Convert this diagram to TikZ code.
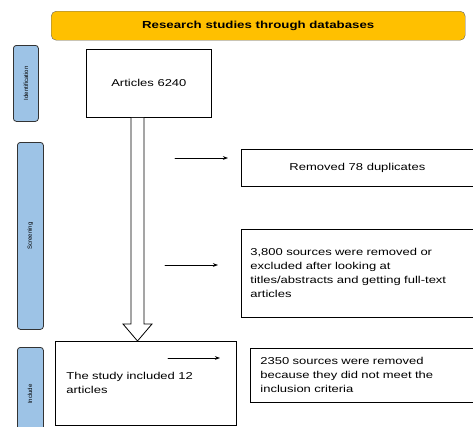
\documentclass[tikz,border=0pt]{standalone}
\usepackage{fontspec}
\setmainfont{Liberation Sans}
\newfontfamily\widefont[FakeStretch=1.3]{Liberation Sans}
\usetikzlibrary{arrows.meta}
\definecolor{bannerorange}{HTML}{FFC000}
\definecolor{stageblue}{HTML}{9DC3E6}

\begin{document}
\begin{tikzpicture}[x=1pt,y=-1pt,>={Stealth[length=1.8mm,width=1.3mm]},line cap=round,
  box/.style={draw,line width=0.8pt,anchor=north west,inner sep=0pt,
    font=\widefont\fontsize{10}{14}\selectfont},
  sidebar/.style={draw=black!80,fill=stageblue,rounded corners=3pt,line width=0.8pt,
    anchor=north west,inner sep=0pt},
  stagetext/.style={rotate=90,font=\fontsize{6}{7}\selectfont},
  hollow/.style={draw,line width=0.8pt,fill=white,line join=miter}]
\clip (0,0) rectangle (473,426);
% title banner
\node[draw=black!60,fill=bannerorange,rounded corners=5pt,anchor=north west,inner sep=0pt,
  minimum width=414pt,minimum height=29pt,font=\widefont\bfseries\fontsize{10.2}{12}\selectfont]
  (title) at (51,11) {Research studies through databases};
% stage labels
\node[sidebar,minimum width=25pt,minimum height=76pt] (ident) at (13,45) {};
\node[stagetext] at (ident.center) {Identification};
\node[sidebar,minimum width=26pt,minimum height=187pt] (screen) at (17,142) {};
\node[stagetext] at (screen.center) {Screening};
\node[sidebar,minimum width=26pt,minimum height=90pt] (incl) at (17,347) {};
\node[stagetext] at (30,394) {Include};
% boxes
\node[box,minimum width=125pt,minimum height=68pt] (arts) at (86,49) {Articles 6240};
\node[box,minimum width=232pt,minimum height=37pt] (dups) at (241,149) {Removed 78 duplicates};
\node[box,minimum width=232pt,minimum height=88pt,text width=214pt,align=left,inner xsep=9pt]
  (excl) at (241,229) {3,800 sources were removed or\\excluded after looking at\\titles/abstracts and getting full-text\\articles};
\node[box,minimum width=181pt,minimum height=84pt,text width=159pt,align=left,inner xsep=11pt]
  (study) at (55,341) {The study included 12\\articles};
\node[box,minimum width=223pt,minimum height=54pt,text width=203pt,align=left,inner xsep=10pt]
  (crit) at (250,348) {2350 sources were removed\\because they did not meet the\\inclusion criteria};
% hollow arrow down
\coordinate (stem) at (arts.south -| 137.5,0);
\coordinate (tip) at (study.north -| 137.5,0);
\draw[hollow] ([xshift=-6.5pt]stem) -- ([xshift=-6.5pt,yshift=17pt]tip)
  -- ([xshift=-14.5pt,yshift=17pt]tip) -- (tip) -- ([xshift=14.5pt,yshift=17pt]tip)
  -- ([xshift=6.5pt,yshift=17pt]tip) -- ([xshift=6.5pt]stem);
% side arrows
\coordinate (a1) at (175,158);
\coordinate (b1) at (228,158);
\coordinate (a2) at (165,265);
\coordinate (b2) at (218,265);
\coordinate (a3) at (168,358);
\coordinate (b3) at (220,358);
\draw[->,line width=0.6pt] (a1) -- (b1);
\draw[->,line width=0.6pt] (a2) -- (b2);
\draw[->,line width=0.6pt] (a3) -- (b3);
\end{tikzpicture}
\end{document}
